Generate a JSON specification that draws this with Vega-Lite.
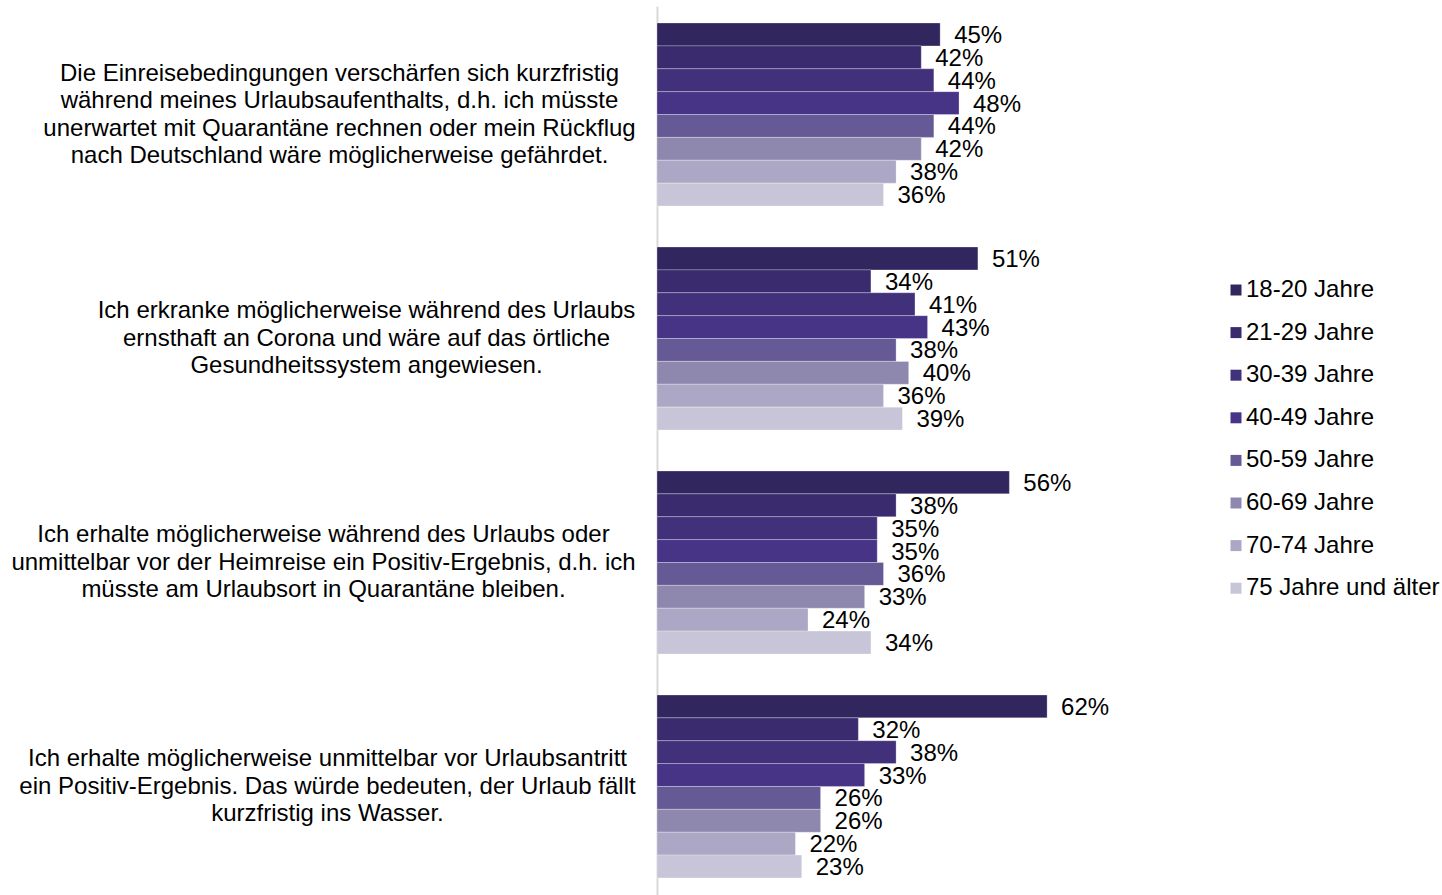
{
  "$schema": "https://vega.github.io/schema/vega-lite/v6.json",
  "width": 560,
  "height": 889,
  "autosize": {"type": "none"},
  "padding": {"left": 657, "top": 6, "right": 225, "bottom": 0},
  "background": "white",
  "config": {"view": {"stroke": null}, "font": "Liberation Sans"},
  "data": {
    "values": [
      {"q": "Die Einreisebedingungen verschärfen sich kurzfristig|während meines Urlaubsaufenthalts, d.h. ich müsste|unerwartet mit Quarantäne rechnen oder mein Rückflug|nach Deutschland wäre möglicherweise gefährdet.", "age": "18-20 Jahre", "v": 0.45},
      {"q": "Die Einreisebedingungen verschärfen sich kurzfristig|während meines Urlaubsaufenthalts, d.h. ich müsste|unerwartet mit Quarantäne rechnen oder mein Rückflug|nach Deutschland wäre möglicherweise gefährdet.", "age": "21-29 Jahre", "v": 0.42},
      {"q": "Die Einreisebedingungen verschärfen sich kurzfristig|während meines Urlaubsaufenthalts, d.h. ich müsste|unerwartet mit Quarantäne rechnen oder mein Rückflug|nach Deutschland wäre möglicherweise gefährdet.", "age": "30-39 Jahre", "v": 0.44},
      {"q": "Die Einreisebedingungen verschärfen sich kurzfristig|während meines Urlaubsaufenthalts, d.h. ich müsste|unerwartet mit Quarantäne rechnen oder mein Rückflug|nach Deutschland wäre möglicherweise gefährdet.", "age": "40-49 Jahre", "v": 0.48},
      {"q": "Die Einreisebedingungen verschärfen sich kurzfristig|während meines Urlaubsaufenthalts, d.h. ich müsste|unerwartet mit Quarantäne rechnen oder mein Rückflug|nach Deutschland wäre möglicherweise gefährdet.", "age": "50-59 Jahre", "v": 0.44},
      {"q": "Die Einreisebedingungen verschärfen sich kurzfristig|während meines Urlaubsaufenthalts, d.h. ich müsste|unerwartet mit Quarantäne rechnen oder mein Rückflug|nach Deutschland wäre möglicherweise gefährdet.", "age": "60-69 Jahre", "v": 0.42},
      {"q": "Die Einreisebedingungen verschärfen sich kurzfristig|während meines Urlaubsaufenthalts, d.h. ich müsste|unerwartet mit Quarantäne rechnen oder mein Rückflug|nach Deutschland wäre möglicherweise gefährdet.", "age": "70-74 Jahre", "v": 0.38},
      {"q": "Die Einreisebedingungen verschärfen sich kurzfristig|während meines Urlaubsaufenthalts, d.h. ich müsste|unerwartet mit Quarantäne rechnen oder mein Rückflug|nach Deutschland wäre möglicherweise gefährdet.", "age": "75 Jahre und älter", "v": 0.36},
      {"q": "Ich erkranke möglicherweise während des Urlaubs|ernsthaft an Corona und wäre auf das örtliche|Gesundheitssystem angewiesen.", "age": "18-20 Jahre", "v": 0.51},
      {"q": "Ich erkranke möglicherweise während des Urlaubs|ernsthaft an Corona und wäre auf das örtliche|Gesundheitssystem angewiesen.", "age": "21-29 Jahre", "v": 0.34},
      {"q": "Ich erkranke möglicherweise während des Urlaubs|ernsthaft an Corona und wäre auf das örtliche|Gesundheitssystem angewiesen.", "age": "30-39 Jahre", "v": 0.41},
      {"q": "Ich erkranke möglicherweise während des Urlaubs|ernsthaft an Corona und wäre auf das örtliche|Gesundheitssystem angewiesen.", "age": "40-49 Jahre", "v": 0.43},
      {"q": "Ich erkranke möglicherweise während des Urlaubs|ernsthaft an Corona und wäre auf das örtliche|Gesundheitssystem angewiesen.", "age": "50-59 Jahre", "v": 0.38},
      {"q": "Ich erkranke möglicherweise während des Urlaubs|ernsthaft an Corona und wäre auf das örtliche|Gesundheitssystem angewiesen.", "age": "60-69 Jahre", "v": 0.40},
      {"q": "Ich erkranke möglicherweise während des Urlaubs|ernsthaft an Corona und wäre auf das örtliche|Gesundheitssystem angewiesen.", "age": "70-74 Jahre", "v": 0.36},
      {"q": "Ich erkranke möglicherweise während des Urlaubs|ernsthaft an Corona und wäre auf das örtliche|Gesundheitssystem angewiesen.", "age": "75 Jahre und älter", "v": 0.39},
      {"q": "Ich erhalte möglicherweise während des Urlaubs oder|unmittelbar vor der Heimreise ein Positiv-Ergebnis, d.h. ich|müsste am Urlaubsort in Quarantäne bleiben.", "age": "18-20 Jahre", "v": 0.56},
      {"q": "Ich erhalte möglicherweise während des Urlaubs oder|unmittelbar vor der Heimreise ein Positiv-Ergebnis, d.h. ich|müsste am Urlaubsort in Quarantäne bleiben.", "age": "21-29 Jahre", "v": 0.38},
      {"q": "Ich erhalte möglicherweise während des Urlaubs oder|unmittelbar vor der Heimreise ein Positiv-Ergebnis, d.h. ich|müsste am Urlaubsort in Quarantäne bleiben.", "age": "30-39 Jahre", "v": 0.35},
      {"q": "Ich erhalte möglicherweise während des Urlaubs oder|unmittelbar vor der Heimreise ein Positiv-Ergebnis, d.h. ich|müsste am Urlaubsort in Quarantäne bleiben.", "age": "40-49 Jahre", "v": 0.35},
      {"q": "Ich erhalte möglicherweise während des Urlaubs oder|unmittelbar vor der Heimreise ein Positiv-Ergebnis, d.h. ich|müsste am Urlaubsort in Quarantäne bleiben.", "age": "50-59 Jahre", "v": 0.36},
      {"q": "Ich erhalte möglicherweise während des Urlaubs oder|unmittelbar vor der Heimreise ein Positiv-Ergebnis, d.h. ich|müsste am Urlaubsort in Quarantäne bleiben.", "age": "60-69 Jahre", "v": 0.33},
      {"q": "Ich erhalte möglicherweise während des Urlaubs oder|unmittelbar vor der Heimreise ein Positiv-Ergebnis, d.h. ich|müsste am Urlaubsort in Quarantäne bleiben.", "age": "70-74 Jahre", "v": 0.24},
      {"q": "Ich erhalte möglicherweise während des Urlaubs oder|unmittelbar vor der Heimreise ein Positiv-Ergebnis, d.h. ich|müsste am Urlaubsort in Quarantäne bleiben.", "age": "75 Jahre und älter", "v": 0.34},
      {"q": "Ich erhalte möglicherweise unmittelbar vor Urlaubsantritt|ein Positiv-Ergebnis. Das würde bedeuten, der Urlaub fällt|kurzfristig ins Wasser.", "age": "18-20 Jahre", "v": 0.62},
      {"q": "Ich erhalte möglicherweise unmittelbar vor Urlaubsantritt|ein Positiv-Ergebnis. Das würde bedeuten, der Urlaub fällt|kurzfristig ins Wasser.", "age": "21-29 Jahre", "v": 0.32},
      {"q": "Ich erhalte möglicherweise unmittelbar vor Urlaubsantritt|ein Positiv-Ergebnis. Das würde bedeuten, der Urlaub fällt|kurzfristig ins Wasser.", "age": "30-39 Jahre", "v": 0.38},
      {"q": "Ich erhalte möglicherweise unmittelbar vor Urlaubsantritt|ein Positiv-Ergebnis. Das würde bedeuten, der Urlaub fällt|kurzfristig ins Wasser.", "age": "40-49 Jahre", "v": 0.33},
      {"q": "Ich erhalte möglicherweise unmittelbar vor Urlaubsantritt|ein Positiv-Ergebnis. Das würde bedeuten, der Urlaub fällt|kurzfristig ins Wasser.", "age": "50-59 Jahre", "v": 0.26},
      {"q": "Ich erhalte möglicherweise unmittelbar vor Urlaubsantritt|ein Positiv-Ergebnis. Das würde bedeuten, der Urlaub fällt|kurzfristig ins Wasser.", "age": "60-69 Jahre", "v": 0.26},
      {"q": "Ich erhalte möglicherweise unmittelbar vor Urlaubsantritt|ein Positiv-Ergebnis. Das würde bedeuten, der Urlaub fällt|kurzfristig ins Wasser.", "age": "70-74 Jahre", "v": 0.22},
      {"q": "Ich erhalte möglicherweise unmittelbar vor Urlaubsantritt|ein Positiv-Ergebnis. Das würde bedeuten, der Urlaub fällt|kurzfristig ins Wasser.", "age": "75 Jahre und älter", "v": 0.23}
    ]
  },
  "encoding": {
    "y": {
      "field": "q", "type": "nominal", "sort": null,
      "scale": {"paddingInner": 0.183, "paddingOuter": 0.076},
      "axis": {
        "title": null, "ticks": false, "domainColor": "#D9D9D9", "domainWidth": 2,
        "labelExpr": "split(datum.label, '|')", "labelAlign": "center", "labelBaseline": "middle",
        "labelOffset": {"condition": {"test": "indexof(datum.value, 'Einreise') >= 0", "value": -41}, "value": -27.5},
        "labelPadding": {"condition": [
          {"test": "indexof(datum.value, 'Einreise') >= 0", "value": 318},
          {"test": "indexof(datum.value, 'erkranke') >= 0", "value": 291},
          {"test": "indexof(datum.value, 'Heimreise') >= 0", "value": 334}
        ], "value": 330},
        "labelFontSize": 24, "labelLineHeight": 27.6, "labelColor": "#000000",
        "labelLimit": 0
      }
    },
    "yOffset": {"field": "age", "type": "nominal", "sort": null, "scale": {"paddingInner": 0, "paddingOuter": 0}}
  },
  "layer": [
    {
      "mark": {"type": "bar", "stroke": "#ffffff", "strokeWidth": 0.8, "strokeOpacity": 0.35},
      "encoding": {
        "x": {"field": "v", "type": "quantitative", "scale": {"domain": [0, 0.89]}, "axis": null},
        "color": {
          "field": "age", "type": "nominal", "sort": null,
          "scale": {
            "domain": ["18-20 Jahre", "21-29 Jahre", "30-39 Jahre", "40-49 Jahre", "50-59 Jahre", "60-69 Jahre", "70-74 Jahre", "75 Jahre und älter"],
            "range": ["#32265E", "#3A2A6E", "#41307A", "#483486", "#665A96", "#8F88AE", "#ACA7C4", "#C8C5D8"]
          },
          "legend": {
            "title": null, "orient": "none", "legendX": 567, "legendY": 272,
            "symbolType": "square", "symbolSize": 121, "symbolStrokeWidth": 0,
            "labelFontSize": 24, "labelColor": "#000000", "labelLimit": 0, "labelOffset": -2,
            "rowPadding": 18.6, "padding": 0
          }
        }
      }
    },
    {
      "mark": {"type": "text", "align": "left", "baseline": "middle", "dx": 14, "dy": 1.5, "fontSize": 24, "color": "#000000"},
      "encoding": {
        "x": {"field": "v", "type": "quantitative", "scale": {"domain": [0, 0.89]}},
        "text": {"field": "v", "type": "quantitative", "format": ".0%"},
        "detail": {"field": "age"}
      }
    }
  ]
}
